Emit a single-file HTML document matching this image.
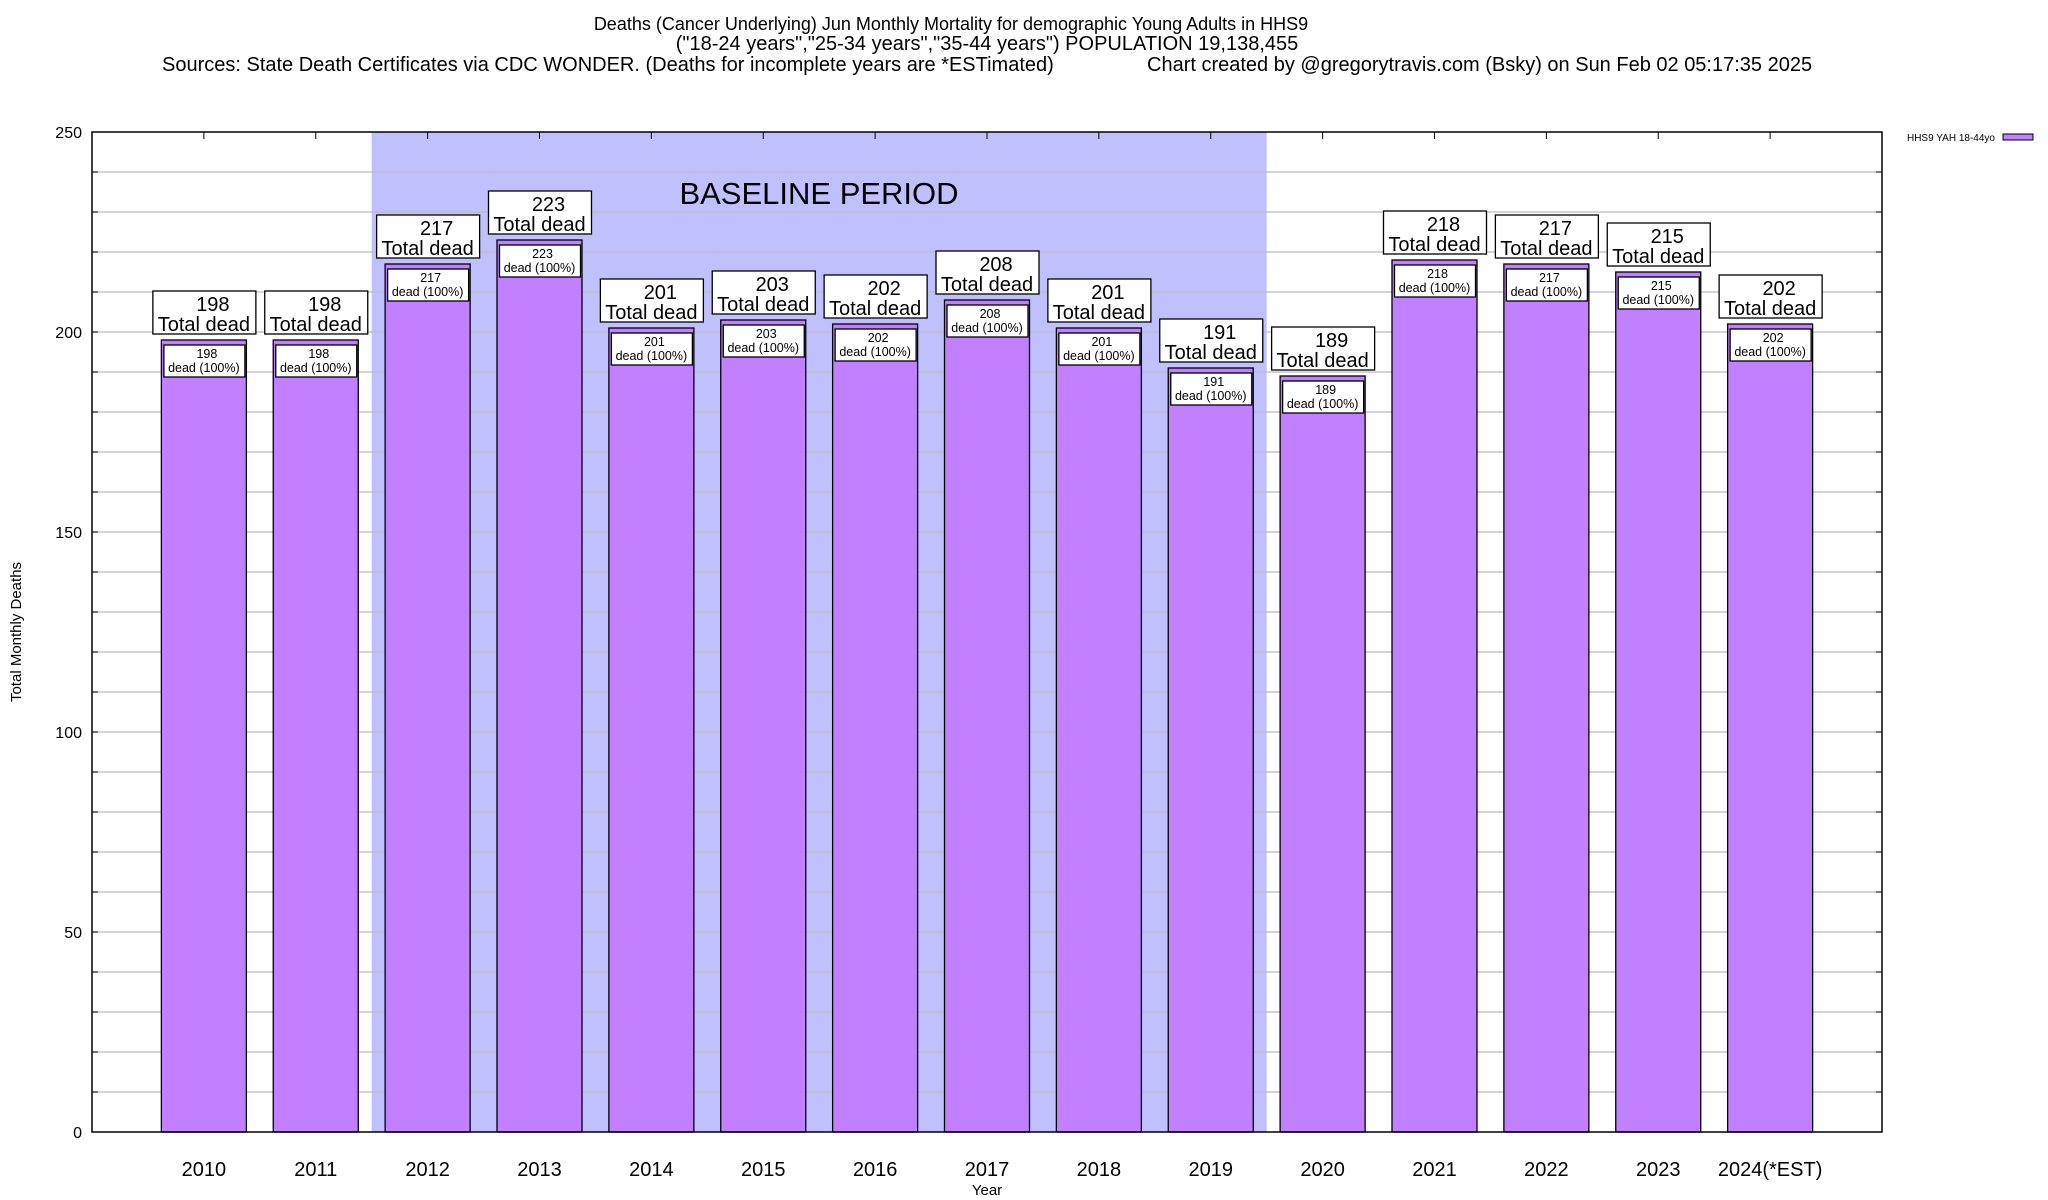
<!DOCTYPE html>
<html><head><meta charset="utf-8"><style>
body{margin:0;background:#fff;}
svg{display:block;font-family:"Liberation Sans",sans-serif;}
</style></head><body>
<svg id="chart" width="2048" height="1200" viewBox="0 0 2048 1200">
<g fill="#000">
<text x="951" y="30" text-anchor="middle" font-size="18">Deaths (Cancer Underlying) Jun Monthly Mortality for demographic Young Adults in HHS9</text>
<text x="987" y="50" text-anchor="middle" font-size="20">("18-24 years","25-34 years","35-44 years") POPULATION 19,138,455</text>
<text x="162" y="71" font-size="20">Sources: State Death Certificates via CDC WONDER. (Deaths for incomplete years are *ESTimated)</text>
<text x="1147" y="71" font-size="20">Chart created by @gregorytravis.com (Bsky) on Sun Feb 02 05:17:35 2025</text>
</g>
<g id="plot"></g>
<text x="21" y="632" transform="rotate(-90 21 632)" text-anchor="middle" font-size="15">Total Monthly Deaths</text>
<text x="987" y="1195" text-anchor="middle" font-size="15">Year</text>
<g>
<text x="1995" y="141" text-anchor="end" font-size="10">HHS9 YAH 18-44yo</text>
<rect x="2003" y="134" width="30" height="6" fill="#c080ff" stroke="#000" stroke-width="1"/>
</g>
</svg>
<script>
const categories=["2010","2011","2012","2013","2014","2015","2016","2017","2018","2019","2020","2021","2022","2023","2024(*EST)"];
const deaths=[198,198,217,223,201,203,202,208,201,191,189,218,217,215,202];
const yTicks=[0,50,100,150,200,250];
const baselineRange=[1.5,9.5];
const NS="http://www.w3.org/2000/svg";
const L=92,R=1882,T=132,B=1132;
const xs=i=>L+(i+1)*(R-L)/16;
const ys=v=>B-(v/250)*(B-T);
const g=document.getElementById('plot');
function mk(tag,attrs,parent){const e=document.createElementNS(NS,tag);for(const k in attrs)e.setAttribute(k,attrs[k]);(parent||g).appendChild(e);return e;}
let sh=mk('rect',{x:xs(baselineRange[0]),y:T,width:xs(baselineRange[1])-xs(baselineRange[0]),height:B-T,fill:'#c0c0ff'});


for(let v=10;v<250;v+=10){
 let ln=mk('line',{x1:L,x2:R,y1:ys(v),y2:ys(v),stroke:'#bbbbbb','stroke-width':1.3});
 
 
 mk('line',{x1:L,x2:L+6,y1:ys(v),y2:ys(v),stroke:'#000'});
 mk('line',{x1:R-6,x2:R,y1:ys(v),y2:ys(v),stroke:'#000'});
}
yTicks.forEach(v=>{
 let t=mk('text',{x:82,y:ys(v)+6,'text-anchor':'end','font-size':16});
 t.textContent=v;
 
 
});
let bt=mk('text',{x:819,y:204,'text-anchor':'middle','font-size':31});
bt.textContent='BASELINE PERIOD';


const bw=85;
categories.forEach((c,i)=>{
 const cx=xs(i),v=deaths[i],top=ys(v);
 let b=mk('rect',{x:cx-bw/2,y:top,width:bw,height:B-top,fill:'#c080ff',stroke:'#000','stroke-width':1.3});
 
 
 mk('line',{x1:cx,x2:cx,y1:T,y2:T+7,stroke:'#000'});
 let ib=mk('rect',{x:cx-40,y:top+5,width:81,height:32,fill:'#fff',stroke:'#000','stroke-width':1.3});
 
 
 let t1=mk('text',{x:cx+3,y:top+18,'text-anchor':'middle','font-size':12.5});t1.textContent=v;
 
 
 let t2=mk('text',{x:cx,y:top+32,'text-anchor':'middle','font-size':12.5});t2.textContent='dead (100%)';
 
 
 let ob=mk('rect',{x:cx-51,y:top-49,width:103,height:43,fill:'#fff',stroke:'#000','stroke-width':1.3});
 
 
 let t3=mk('text',{x:cx+9,y:top-29,'text-anchor':'middle','font-size':20});t3.textContent=v;
 
 
 let t4=mk('text',{x:cx,y:top-9,'text-anchor':'middle','font-size':20});t4.textContent='Total dead';
 
 
 let xl=mk('text',{x:cx,y:1176,'text-anchor':'middle','font-size':20});xl.textContent=c;
 
 
});
let fr=mk('rect',{x:L,y:T,width:R-L,height:B-T,fill:'none',stroke:'#000','stroke-width':1.5});


</script>
</body></html>
